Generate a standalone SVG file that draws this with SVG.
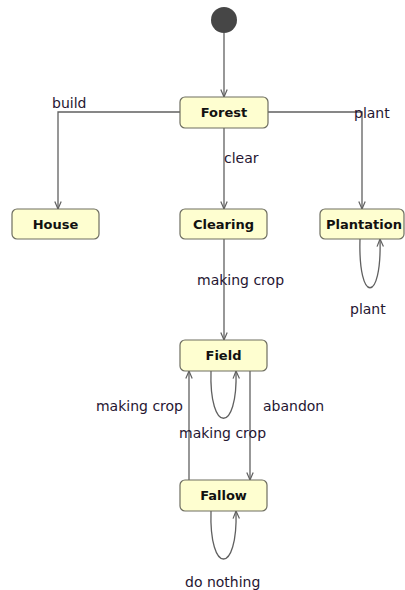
<svg xmlns="http://www.w3.org/2000/svg" width="405" height="590" viewBox="0 0 405 590">
  <style>
    .state rect { fill: #fefed0; stroke: #6e6e60; stroke-width: 1.2; }
    .state text { font-family: "DejaVu Sans", sans-serif; font-weight: bold; font-size: 13px; fill: #111; text-anchor: middle; }
    .edge { fill: none; stroke: #606060; stroke-width: 1.3; marker-end: url(#arrow); }
    .lbl { font-family: "DejaVu Sans", sans-serif; font-size: 14px; fill: #261632; }
  </style>
  <defs>
    <marker id="arrow" viewBox="0 0 8 8" markerWidth="8" markerHeight="8" refX="8" refY="4" orient="auto" markerUnits="userSpaceOnUse">
      <path d="M0.5,0.8 L8,4 L0.5,7.2" fill="none" stroke="#606060" stroke-width="1.2"/>
    </marker>
  </defs>
  <rect width="405" height="590" fill="#ffffff"/>

  <!-- transitions -->
  <g id="connectors">
    <path class="edge" d="M224,33 V97"/>
    <path class="edge" d="M180,112 H58 V209"/>
    <path class="edge" d="M224,128 V209"/>
    <path class="edge" d="M268,112 H362 V209"/>
    <path class="edge" d="M360,239 C358,304 382,304 380,239"/>
    <path class="edge" d="M224,239 V340"/>
    <path class="edge" d="M211,371 C209,434 238,434 236,371"/>
    <path class="edge" d="M189,480 V371"/>
    <path class="edge" d="M250,371 V480"/>
    <path class="edge" d="M211,511 C209,575 238,575 236,511"/>
    <text class="lbl" x="52" y="108">build</text>
    <text class="lbl" x="354" y="118">plant</text>
    <text class="lbl" x="224" y="163">clear</text>
    <text class="lbl" x="350" y="314">plant</text>
    <text class="lbl" x="197" y="285">making crop</text>
    <text class="lbl" x="183" y="411" text-anchor="end">making crop</text>
    <text class="lbl" x="263" y="411">abandon</text>
    <text class="lbl" x="179" y="438">making crop</text>
    <text class="lbl" x="185" y="587">do nothing</text>
  </g>

  <g id="initial">
    <circle cx="224" cy="20" r="13" fill="#464646"/>
  </g>
  <g id="forest" class="state">
    <rect x="180" y="97" width="88" height="31" rx="5"/>
    <text x="224" y="117">Forest</text>
  </g>
  <g id="house" class="state">
    <rect x="12" y="209" width="87" height="30" rx="5"/>
    <text x="55.5" y="229">House</text>
  </g>
  <g id="clearing" class="state">
    <rect x="180" y="209" width="87" height="30" rx="5"/>
    <text x="223.5" y="229">Clearing</text>
  </g>
  <g id="plantation" class="state">
    <rect x="320" y="209" width="84" height="30" rx="5"/>
    <text x="364" y="229">Plantation</text>
  </g>
  <g id="field" class="state">
    <rect x="180" y="340" width="87" height="31" rx="5"/>
    <text x="223.5" y="360">Field</text>
  </g>
  <g id="fallow" class="state">
    <rect x="180" y="480" width="87" height="31" rx="5"/>
    <text x="223.5" y="500">Fallow</text>
  </g>
</svg>
